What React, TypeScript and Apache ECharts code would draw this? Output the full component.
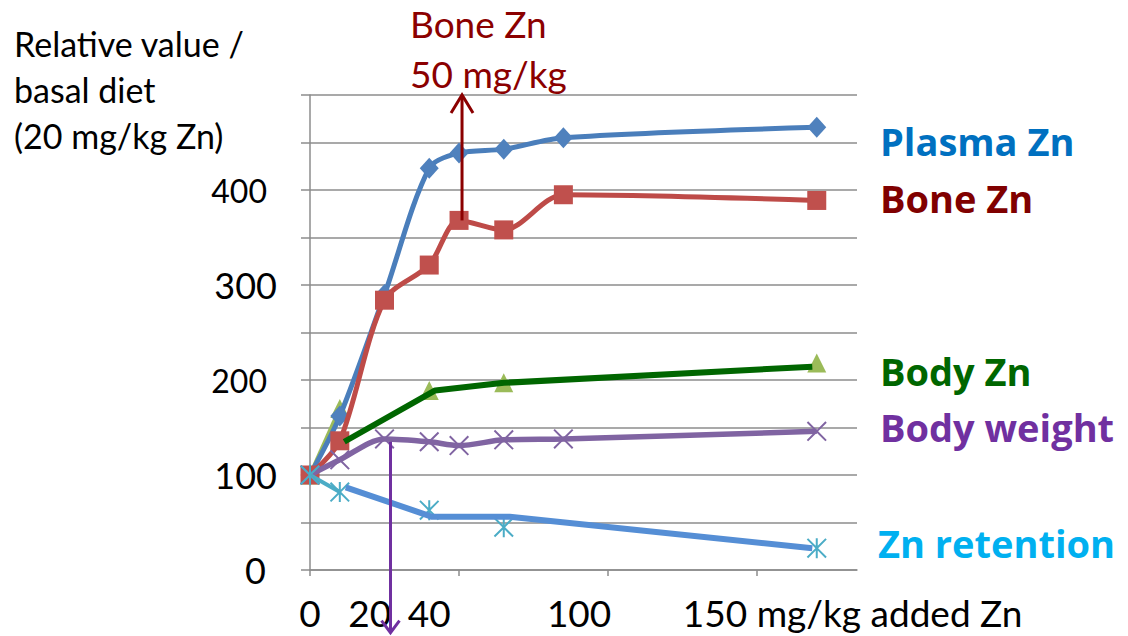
import React, { useEffect, useRef } from "react";
import * as echarts from "echarts";

// ---- data ----
const addedZn = [0, 10, 25, 40, 50, 65, 85, 170];
const plasmaZn = [100, 162, 290, 423, 439, 443, 455, 466];
const boneZn = [100, 136, 284, 321, 368, 358, 395, 389];
const bodyWeight = [100, 116, 138, 135, 131, 137, 138, 146];
const bodyZnX = [0, 10, 40, 65, 170];
const bodyZn = [100, 170, 189, 197, 218];
const retentionX = [0, 10, 40, 65, 170];
const znRetention = [100, 82, 63, 45, 23];
// hand-drawn overlay lines
const bodyZnTrendX = [11.5, 42, 65, 168.5];
const bodyZnTrend = [135, 189, 197, 214];
const retentionTrendX = [12, 41, 67, 168.5];
const retentionTrend = [87, 56, 56, 23];
// arrows: [x, from y, to y]
const boneArrow = [51, 368, 500];
const weightArrow = [27, 135, -66];
// ticks / labels
const yTickLabels = [0, 100, 200, 300, 400];
const xMajorTicks = [0, 50, 100, 150];
const xTickValues = [0, 20, 40, 100, 150];
const xTickLabels = ["0", "20", "40", "100", "150 mg/kg added Zn"];
const seriesNames = ["Plasma Zn", "Bone Zn", "Body Zn", "Body weight", "Zn retention"];

const FONT = 'Lato, "Noto Sans", sans-serif';
const BOLD_FONT = '"Open Sans", Lato, sans-serif';

const pairs = (xs: number[], ys: number[]) => xs.map((x, i) => [x, ys[i]]);

const X_PATH =
  "path://M0 1.4 L1.4 0 L10 8.6 L18.6 0 L20 1.4 L11.4 10 L20 18.6 L18.6 20 L10 11.4 L1.4 20 L0 18.6 L8.6 10 Z";
const STAR_PATH =
  "path://M0 1.4 L1.4 0 L10 8.6 L18.6 0 L20 1.4 L11.4 10 L20 18.6 L18.6 20 L10 11.4 L1.4 20 L0 18.6 L8.6 10 Z M9 0 L11 0 L11 20 L9 20 Z";

function arrowRender(color: string, hw: number, hh: number) {
  return (params: any, api: any) => {
    const x = api.value(0);
    const p1 = api.coord([x, api.value(1)]);
    const p2 = api.coord([x, api.value(2)]);
    const dir = p2[1] < p1[1] ? 1 : -1;
    return {
      type: "group",
      children: [
        {
          type: "line",
          shape: { x1: p1[0], y1: p1[1], x2: p2[0], y2: p2[1] },
          style: { stroke: color, lineWidth: 3 },
        },
        {
          type: "polyline",
          shape: {
            points: [
              [p2[0] - hw, p2[1] + dir * hh],
              [p2[0], p2[1]],
              [p2[0] + hw, p2[1] + dir * hh],
            ],
          },
          style: { stroke: color, lineWidth: 3, fill: null },
        },
      ],
    };
  };
}

export default function App() {
  const ref = useRef<HTMLDivElement>(null);
  useEffect(() => {
    if (!ref.current) return;
    const chart = echarts.init(ref.current, null, { renderer: "svg" });
    const grey = "#8c8c8c";
    const labelStyle = (fill: string) => ({
      fontFamily: BOLD_FONT,
      fontSize: 38,
      fontWeight: "bold",
      fill,
      verticalAlign: "middle",
    });
    const option: any = {
      animation: false,
      backgroundColor: "#ffffff",
      grid: { left: 310, right: 271, top: 95, bottom: 66, containLabel: false },
      xAxis: {
        type: "value",
        min: 0,
        max: 183.5,
        axisLine: { show: true, lineStyle: { color: grey, width: 1.5 } },
        axisTick: { show: true, customValues: xMajorTicks, length: 6, lineStyle: { color: grey, width: 1.5 } },
        splitLine: { show: false },
        axisLabel: {
          customValues: xTickValues,
          margin: 24,
          color: "#000",
          fontFamily: FONT,
          fontSize: 37,
          formatter: (v: number) => {
            const i = xTickValues.indexOf(v);
            const t = i >= 0 ? xTickLabels[i] : "";
            if (v === 100) return "{h|" + t + "}";
            if (v === 150) return "{u|" + t + "}";
            return "{n|" + t + "}";
          },
          rich: {
            n: { fontFamily: FONT, fontSize: 37, color: "#000" },
            h: { fontFamily: FONT, fontSize: 37, color: "#000", padding: [0, 58, 0, 0] },
            u: { fontFamily: FONT, fontSize: 37, color: "#000", padding: [0, 0, 0, 191] },
          },
        },
      },
      yAxis: {
        type: "value",
        min: 0,
        max: 500,
        interval: 50,
        axisLine: { show: true, lineStyle: { color: grey, width: 1.5 } },
        axisTick: { show: true, length: 9, lineStyle: { color: grey, width: 1.5 } },
        splitLine: { show: true, lineStyle: { color: grey, width: 1.5 } },
        axisLabel: {
          margin: 33,
          color: "#000",
          formatter: (v: number) => {
            if (yTickLabels.indexOf(v) < 0) return "";
            if (v === 300 || v === 100) return "{b|" + v + "}";
            if (v === 0) return "{c|" + v + "}";
            return "{a|" + v + "}";
          },
          rich: {
            a: { fontFamily: FONT, fontSize: 32, color: "#000", padding: [0, 10, 0, 0] },
            b: { fontFamily: FONT, fontSize: 36, color: "#000" },
            c: { fontFamily: FONT, fontSize: 36, color: "#000", padding: [0, 11, 0, 0] },
          },
        },
      },
      series: [
        {
          name: seriesNames[2] + " start",
          type: "line",
          data: pairs(bodyZnX, bodyZn).slice(0, 2),
          showSymbol: false,
          lineStyle: { color: "#9BBB59", width: 4 },
          z: 2,
        },
        {
          name: seriesNames[2],
          type: "line",
          data: pairs(bodyZnX, bodyZn),
          symbol: "triangle",
          symbolSize: 19,
          itemStyle: { color: "#9BBB59" },
          lineStyle: { width: 0, opacity: 0 },
          z: 2,
        },
        {
          name: seriesNames[0],
          type: "line",
          data: pairs(addedZn, plasmaZn),
          smooth: 0.3,
          symbol: "diamond",
          symbolSize: [19, 21],
          itemStyle: { color: "#4F81BD" },
          lineStyle: { color: "#4A7EBB", width: 5 },
          z: 3,
        },
        {
          name: seriesNames[1],
          type: "line",
          data: pairs(addedZn, boneZn),
          smooth: 0.3,
          symbol: "rect",
          symbolSize: 19,
          itemStyle: { color: "#C0504D" },
          lineStyle: { color: "#BE4B48", width: 5 },
          z: 4,
        },
        {
          name: seriesNames[3],
          type: "line",
          data: pairs(addedZn, bodyWeight),
          smooth: 0.3,
          symbol: X_PATH,
          symbolSize: 20,
          itemStyle: { color: "#8064A2" },
          lineStyle: { color: "#8064A2", width: 5.5 },
          z: 5,
        },
        {
          name: seriesNames[4] + " start",
          type: "line",
          data: pairs(retentionX, znRetention).slice(0, 2),
          showSymbol: false,
          lineStyle: { color: "#4BACC6", width: 4 },
          z: 5,
        },
        {
          name: seriesNames[4],
          type: "line",
          data: pairs(retentionX, znRetention),
          symbol: STAR_PATH,
          symbolSize: 20,
          itemStyle: { color: "#4BACC6" },
          lineStyle: { width: 0, opacity: 0 },
          z: 6,
        },
        {
          name: "Body Zn trend",
          type: "line",
          data: pairs(bodyZnTrendX, bodyZnTrend),
          showSymbol: false,
          lineStyle: { color: "#006600", width: 6 },
          z: 7,
        },
        {
          name: "Zn retention trend",
          type: "line",
          data: pairs(retentionTrendX, retentionTrend),
          showSymbol: false,
          lineStyle: { color: "#558ED5", width: 6 },
          z: 7,
        },
        {
          name: "Bone arrow",
          type: "custom",
          renderItem: arrowRender("#8B0000", 11, 18),
          data: [boneArrow],
          encode: { x: 0, y: [1, 2] },
          clip: false,
          z: 8,
        },
        {
          name: "Weight arrow",
          type: "custom",
          renderItem: arrowRender("#7030A0", 9, 12),
          data: [weightArrow],
          encode: { x: 0, y: [1, 2] },
          clip: false,
          z: 8,
        },
      ],
      graphic: [
        {
          type: "text",
          left: 14,
          top: 20,
          style: {
            text: "Relative value /\nbasal diet\n(20 mg/kg Zn)",
            fontFamily: FONT,
            fontSize: 34,
            lineHeight: 46,
            fill: "#000",
          },
        },
        {
          type: "text",
          x: 410,
          y: 48,
          style: {
            text: "Bone Zn\n50 mg/kg",
            fontFamily: FONT,
            fontSize: 37,
            lineHeight: 50,
            fill: "#8B0000",
            align: "left",
            verticalAlign: "middle",
          },
        },
        { type: "text", x: 880, y: 141, style: { text: seriesNames[0], ...labelStyle("#0070C0") } },
        { type: "text", x: 880, y: 198, style: { text: seriesNames[1], ...labelStyle("#800000") } },
        { type: "text", x: 880, y: 371, style: { text: seriesNames[2], ...labelStyle("#006600") } },
        { type: "text", x: 880, y: 427, style: { text: seriesNames[3], ...labelStyle("#7030A0") } },
        { type: "text", x: 878, y: 543, style: { text: seriesNames[4], ...labelStyle("#00B0F0") } },
      ],
    };
    chart.setOption(option);
    return () => chart.dispose();
  }, []);
  return (
    <div
      ref={ref}
      style={{ position: "fixed", left: 0, top: 0, width: 1128, height: 636, background: "#fff" }}
    />
  );
}
